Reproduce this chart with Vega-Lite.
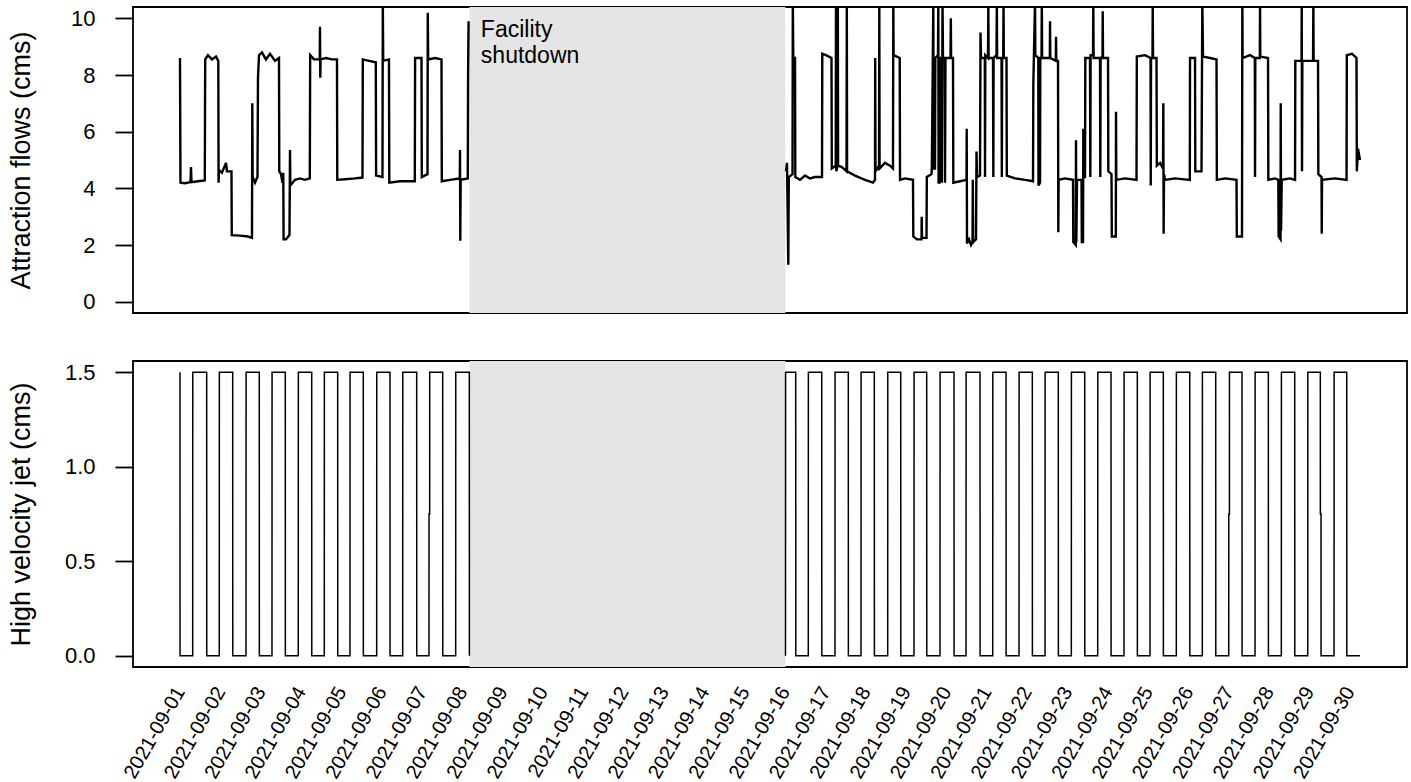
{
"$schema": "https://vega.github.io/schema/vega-lite/v6.json",
"padding": {"left": 6, "top": 6, "right": 0, "bottom": 0},
"spacing": 46,
"resolve": {"scale": {"x": "independent", "y": "independent"}},
"config": {
"font": "Liberation Sans",
"view": {"stroke": "black", "strokeWidth": 1.8},
"axis": {"domain": false, "grid": false, "labelColor": "black", "titleColor": "black", "tickColor": "black", "labelFontSize": 22, "titleFontSize": 27, "titleFontWeight": "normal", "tickSize": 18, "tickWidth": 1.8, "labelPadding": 20, "labelFont": "Liberation Sans", "titleFont": "Liberation Sans"}
},
"datasets": {
"shutdown": [{"start": 8.178, "end": 16.01}],
"note": [{"day": 8.46, "flow": 9.33, "label": "Facility\nshutdown"}],
"flow": [
{"day":1.000,"flow":8.6,"p":"a"},{"day":1.012,"flow":4.2,"p":"a"},{"day":1.124,"flow":4.18,"p":"a"},{"day":1.260,"flow":4.22,"p":"a"},{"day":1.273,"flow":4.75,"p":"a"},{"day":1.285,"flow":4.22,"p":"a"},{"day":1.446,"flow":4.25,"p":"a"},{"day":1.615,"flow":4.28,"p":"a"},{"day":1.625,"flow":8.55,"p":"a"},{"day":1.694,"flow":8.7,"p":"a"},{"day":1.793,"flow":8.55,"p":"a"},{"day":1.893,"flow":8.65,"p":"a"},{"day":1.950,"flow":8.5,"p":"a"},{"day":1.957,"flow":4.2,"p":"a"},{"day":1.967,"flow":4.65,"p":"a"},{"day":2.041,"flow":4.55,"p":"a"},{"day":2.141,"flow":4.9,"p":"a"},{"day":2.165,"flow":4.6,"p":"a"},{"day":2.277,"flow":4.6,"p":"a"},{"day":2.284,"flow":2.35,"p":"a"},{"day":2.488,"flow":2.33,"p":"a"},{"day":2.686,"flow":2.3,"p":"a"},{"day":2.785,"flow":2.25,"p":"a"},{"day":2.793,"flow":7.0,"p":"a"},{"day":2.803,"flow":4.4,"p":"a"},{"day":2.860,"flow":4.2,"p":"a"},{"day":2.922,"flow":4.4,"p":"a"},{"day":2.934,"flow":7.9,"p":"a"},{"day":2.959,"flow":8.7,"p":"a"},{"day":3.033,"flow":8.8,"p":"a"},{"day":3.132,"flow":8.55,"p":"a"},{"day":3.232,"flow":8.75,"p":"a"},{"day":3.356,"flow":8.5,"p":"a"},{"day":3.455,"flow":8.6,"p":"a"},{"day":3.462,"flow":4.6,"p":"a"},{"day":3.504,"flow":4.5,"p":"a"},{"day":3.542,"flow":4.2,"p":"a"},{"day":3.561,"flow":4.55,"p":"a"},{"day":3.569,"flow":2.2,"p":"a"},{"day":3.628,"flow":2.2,"p":"a"},{"day":3.715,"flow":2.35,"p":"a"},{"day":3.728,"flow":5.35,"p":"a"},{"day":3.737,"flow":4.1,"p":"a"},{"day":3.852,"flow":4.3,"p":"a"},{"day":3.976,"flow":4.35,"p":"a"},{"day":4.100,"flow":4.3,"p":"a"},{"day":4.219,"flow":4.35,"p":"a"},{"day":4.228,"flow":8.7,"p":"a"},{"day":4.323,"flow":8.55,"p":"a"},{"day":4.466,"flow":8.55,"p":"a"},{"day":4.471,"flow":9.7,"p":"a"},{"day":4.479,"flow":7.9,"p":"a"},{"day":4.486,"flow":8.55,"p":"a"},{"day":4.620,"flow":8.6,"p":"a"},{"day":4.769,"flow":8.55,"p":"a"},{"day":4.893,"flow":8.55,"p":"a"},{"day":4.900,"flow":4.3,"p":"a"},{"day":5.091,"flow":4.32,"p":"a"},{"day":5.339,"flow":4.35,"p":"a"},{"day":5.525,"flow":4.38,"p":"a"},{"day":5.533,"flow":8.55,"p":"a"},{"day":5.686,"flow":8.5,"p":"a"},{"day":5.855,"flow":8.45,"p":"a"},{"day":5.863,"flow":4.45,"p":"a"},{"day":6.021,"flow":4.4,"p":"a"},{"day":6.029,"flow":10.6,"p":"a"},{"day":6.039,"flow":8.5,"p":"a"},{"day":6.182,"flow":8.55,"p":"a"},{"day":6.190,"flow":4.2,"p":"a"},{"day":6.455,"flow":4.25,"p":"a"},{"day":6.822,"flow":4.25,"p":"a"},{"day":6.830,"flow":8.6,"p":"a"},{"day":6.988,"flow":8.6,"p":"a"},{"day":6.996,"flow":4.4,"p":"a"},{"day":7.137,"flow":4.5,"p":"a"},{"day":7.144,"flow":10.2,"p":"a"},{"day":7.154,"flow":8.55,"p":"a"},{"day":7.323,"flow":8.6,"p":"a"},{"day":7.484,"flow":8.55,"p":"a"},{"day":7.492,"flow":4.25,"p":"a"},{"day":7.695,"flow":4.3,"p":"a"},{"day":7.938,"flow":4.35,"p":"a"},{"day":7.943,"flow":5.35,"p":"a"},{"day":7.950,"flow":2.15,"p":"a"},{"day":7.960,"flow":4.3,"p":"a"},{"day":8.136,"flow":4.35,"p":"a"},{"day":8.144,"flow":8.1,"p":"a"},{"day":8.156,"flow":9.9,"p":"a"},
{"day":16.026,"flow":4.6,"p":"b"},{"day":16.051,"flow":4.9,"p":"b"},{"day":16.083,"flow":1.3,"p":"b"},{"day":16.096,"flow":4.4,"p":"b"},{"day":16.188,"flow":4.5,"p":"b"},{"day":16.195,"flow":10.6,"p":"b"},{"day":16.207,"flow":8.6,"p":"b"},{"day":16.250,"flow":8.6,"p":"b"},{"day":16.257,"flow":4.4,"p":"b"},{"day":16.374,"flow":4.3,"p":"b"},{"day":16.498,"flow":4.45,"p":"b"},{"day":16.621,"flow":4.35,"p":"b"},{"day":16.745,"flow":4.4,"p":"b"},{"day":16.919,"flow":4.4,"p":"b"},{"day":16.926,"flow":8.75,"p":"b"},{"day":17.018,"flow":8.7,"p":"b"},{"day":17.154,"flow":8.6,"p":"b"},{"day":17.162,"flow":4.7,"p":"b"},{"day":17.259,"flow":4.8,"p":"b"},{"day":17.266,"flow":10.6,"p":"b"},{"day":17.274,"flow":4.6,"p":"b"},{"day":17.303,"flow":4.8,"p":"b"},{"day":17.311,"flow":10.6,"p":"b"},{"day":17.318,"flow":4.8,"p":"b"},{"day":17.415,"flow":4.75,"p":"b"},{"day":17.527,"flow":4.6,"p":"b"},{"day":17.534,"flow":10.6,"p":"b"},{"day":17.541,"flow":4.6,"p":"b"},{"day":17.737,"flow":4.45,"p":"b"},{"day":17.985,"flow":4.3,"p":"b"},{"day":18.184,"flow":4.2,"p":"b"},{"day":18.233,"flow":4.3,"p":"b"},{"day":18.238,"flow":8.6,"p":"b"},{"day":18.246,"flow":4.6,"p":"b"},{"day":18.333,"flow":4.8,"p":"b"},{"day":18.340,"flow":10.6,"p":"b"},{"day":18.347,"flow":4.7,"p":"b"},{"day":18.481,"flow":4.9,"p":"b"},{"day":18.605,"flow":4.8,"p":"b"},{"day":18.679,"flow":4.7,"p":"b"},{"day":18.687,"flow":10.6,"p":"b"},{"day":18.694,"flow":8.7,"p":"b"},{"day":18.846,"flow":8.6,"p":"b"},{"day":18.853,"flow":4.3,"p":"b"},{"day":18.977,"flow":4.35,"p":"b"},{"day":19.175,"flow":4.3,"p":"b"},{"day":19.183,"flow":2.3,"p":"b"},{"day":19.274,"flow":2.2,"p":"b"},{"day":19.386,"flow":2.2,"p":"b"},{"day":19.391,"flow":3.0,"p":"b"},{"day":19.399,"flow":2.25,"p":"b"},{"day":19.510,"flow":2.25,"p":"b"},{"day":19.518,"flow":4.4,"p":"b"},{"day":19.634,"flow":4.5,"p":"b"},{"day":19.642,"flow":4.7,"p":"b"},{"day":19.679,"flow":10.6,"p":"b"},{"day":19.686,"flow":4.7,"p":"b"},{"day":19.721,"flow":4.7,"p":"b"},{"day":19.729,"flow":8.6,"p":"b"},{"day":19.795,"flow":8.7,"p":"b"},{"day":19.803,"flow":10.6,"p":"b"},{"day":19.810,"flow":4.2,"p":"b"},{"day":19.833,"flow":4.2,"p":"b"},{"day":19.840,"flow":8.6,"p":"b"},{"day":19.882,"flow":8.6,"p":"b"},{"day":19.890,"flow":4.2,"p":"b"},{"day":19.907,"flow":10.6,"p":"b"},{"day":19.919,"flow":8.6,"p":"b"},{"day":19.962,"flow":8.6,"p":"b"},{"day":19.969,"flow":4.2,"p":"b"},{"day":19.981,"flow":8.6,"p":"b"},{"day":20.105,"flow":8.6,"p":"b"},{"day":20.113,"flow":10.0,"p":"b"},{"day":20.120,"flow":8.6,"p":"b"},{"day":20.167,"flow":8.6,"p":"b"},{"day":20.175,"flow":4.2,"p":"b"},{"day":20.341,"flow":4.25,"p":"b"},{"day":20.502,"flow":4.3,"p":"b"},{"day":20.507,"flow":6.1,"p":"b"},{"day":20.514,"flow":2.05,"p":"b"},{"day":20.564,"flow":2.2,"p":"b"},{"day":20.614,"flow":2.0,"p":"b"},{"day":20.651,"flow":2.1,"p":"b"},{"day":20.658,"flow":4.3,"p":"b"},{"day":20.668,"flow":2.1,"p":"b"},{"day":20.738,"flow":2.2,"p":"b"},{"day":20.750,"flow":5.3,"p":"b"},{"day":20.763,"flow":4.4,"p":"b"},{"day":20.837,"flow":4.45,"p":"b"},{"day":20.849,"flow":9.5,"p":"b"},{"day":20.862,"flow":8.6,"p":"b"},{"day":20.956,"flow":8.6,"p":"b"},{"day":20.961,"flow":4.4,"p":"b"},{"day":20.968,"flow":8.7,"p":"b"},{"day":21.035,"flow":8.6,"p":"b"},{"day":21.043,"flow":10.6,"p":"b"},{"day":21.050,"flow":8.6,"p":"b"},{"day":21.159,"flow":8.6,"p":"b"},{"day":21.167,"flow":4.4,"p":"b"},{"day":21.174,"flow":8.6,"p":"b"},{"day":21.246,"flow":8.7,"p":"b"},{"day":21.254,"flow":10.6,"p":"b"},{"day":21.261,"flow":8.6,"p":"b"},{"day":21.370,"flow":8.6,"p":"b"},{"day":21.378,"flow":4.4,"p":"b"},{"day":21.385,"flow":8.6,"p":"b"},{"day":21.412,"flow":8.6,"p":"b"},{"day":21.420,"flow":10.6,"p":"b"},{"day":21.427,"flow":8.6,"p":"b"},{"day":21.494,"flow":8.6,"p":"b"},{"day":21.501,"flow":4.45,"p":"b"},{"day":21.705,"flow":4.35,"p":"b"},{"day":21.953,"flow":4.3,"p":"b"},{"day":22.151,"flow":4.25,"p":"b"},{"day":22.159,"flow":7.7,"p":"b"},{"day":22.201,"flow":10.6,"p":"b"},{"day":22.208,"flow":8.7,"p":"b"},{"day":22.282,"flow":8.6,"p":"b"},{"day":22.287,"flow":4.1,"p":"b"},{"day":22.325,"flow":4.2,"p":"b"},{"day":22.332,"flow":8.6,"p":"b"},{"day":22.362,"flow":8.6,"p":"b"},{"day":22.369,"flow":10.6,"p":"b"},{"day":22.377,"flow":8.6,"p":"b"},{"day":22.568,"flow":8.6,"p":"b"},{"day":22.573,"flow":9.9,"p":"b"},{"day":22.580,"flow":8.6,"p":"b"},{"day":22.717,"flow":8.5,"p":"b"},{"day":22.721,"flow":9.35,"p":"b"},{"day":22.729,"flow":8.5,"p":"b"},{"day":22.771,"flow":8.5,"p":"b"},{"day":22.778,"flow":2.45,"p":"b"},{"day":22.786,"flow":4.3,"p":"b"},{"day":22.944,"flow":4.35,"p":"b"},{"day":23.143,"flow":4.3,"p":"b"},{"day":23.150,"flow":2.1,"p":"b"},{"day":23.210,"flow":2.0,"p":"b"},{"day":23.217,"flow":5.7,"p":"b"},{"day":23.225,"flow":2.1,"p":"b"},{"day":23.242,"flow":4.3,"p":"b"},{"day":23.354,"flow":4.3,"p":"b"},{"day":23.361,"flow":2.1,"p":"b"},{"day":23.391,"flow":2.1,"p":"b"},{"day":23.398,"flow":6.1,"p":"b"},{"day":23.406,"flow":4.4,"p":"b"},{"day":23.440,"flow":4.4,"p":"b"},{"day":23.448,"flow":8.6,"p":"b"},{"day":23.564,"flow":8.6,"p":"b"},{"day":23.572,"flow":4.4,"p":"b"},{"day":23.579,"flow":8.7,"p":"b"},{"day":23.639,"flow":8.7,"p":"b"},{"day":23.646,"flow":10.6,"p":"b"},{"day":23.654,"flow":8.6,"p":"b"},{"day":23.812,"flow":8.6,"p":"b"},{"day":23.820,"flow":4.4,"p":"b"},{"day":23.827,"flow":8.6,"p":"b"},{"day":23.874,"flow":8.65,"p":"b"},{"day":23.879,"flow":10.25,"p":"b"},{"day":23.887,"flow":8.6,"p":"b"},{"day":24.011,"flow":8.6,"p":"b"},{"day":24.018,"flow":4.6,"p":"b"},{"day":24.097,"flow":4.5,"p":"b"},{"day":24.105,"flow":2.3,"p":"b"},{"day":24.204,"flow":2.3,"p":"b"},{"day":24.209,"flow":6.7,"p":"b"},{"day":24.216,"flow":4.3,"p":"b"},{"day":24.432,"flow":4.35,"p":"b"},{"day":24.717,"flow":4.3,"p":"b"},{"day":24.725,"flow":8.65,"p":"b"},{"day":24.928,"flow":8.7,"p":"b"},{"day":25.065,"flow":8.6,"p":"b"},{"day":25.070,"flow":4.1,"p":"b"},{"day":25.077,"flow":8.6,"p":"b"},{"day":25.114,"flow":8.6,"p":"b"},{"day":25.119,"flow":10.6,"p":"b"},{"day":25.127,"flow":8.6,"p":"b"},{"day":25.213,"flow":8.6,"p":"b"},{"day":25.221,"flow":4.8,"p":"b"},{"day":25.300,"flow":4.9,"p":"b"},{"day":25.374,"flow":4.7,"p":"b"},{"day":25.382,"flow":7.0,"p":"b"},{"day":25.390,"flow":2.4,"p":"b"},{"day":25.399,"flow":4.5,"p":"b"},{"day":25.424,"flow":4.3,"p":"b"},{"day":25.672,"flow":4.35,"p":"b"},{"day":26.039,"flow":4.3,"p":"b"},{"day":26.044,"flow":8.6,"p":"b"},{"day":26.168,"flow":8.6,"p":"b"},{"day":26.175,"flow":4.6,"p":"b"},{"day":26.329,"flow":4.6,"p":"b"},{"day":26.349,"flow":10.6,"p":"b"},{"day":26.366,"flow":8.65,"p":"b"},{"day":26.540,"flow":8.6,"p":"b"},{"day":26.701,"flow":8.55,"p":"b"},{"day":26.709,"flow":4.3,"p":"b"},{"day":26.912,"flow":4.35,"p":"b"},{"day":27.197,"flow":4.3,"p":"b"},{"day":27.204,"flow":2.3,"p":"b"},{"day":27.333,"flow":2.3,"p":"b"},{"day":27.341,"flow":10.6,"p":"b"},{"day":27.348,"flow":8.6,"p":"b"},{"day":27.532,"flow":8.7,"p":"b"},{"day":27.651,"flow":8.6,"p":"b"},{"day":27.656,"flow":4.4,"p":"b"},{"day":27.663,"flow":8.6,"p":"b"},{"day":27.775,"flow":8.6,"p":"b"},{"day":27.780,"flow":10.6,"p":"b"},{"day":27.787,"flow":8.65,"p":"b"},{"day":27.978,"flow":8.6,"p":"b"},{"day":27.986,"flow":4.3,"p":"b"},{"day":28.152,"flow":4.35,"p":"b"},{"day":28.233,"flow":4.3,"p":"b"},{"day":28.241,"flow":2.3,"p":"b"},{"day":28.288,"flow":2.2,"p":"b"},{"day":28.293,"flow":7.0,"p":"b"},{"day":28.301,"flow":2.5,"p":"b"},{"day":28.318,"flow":4.3,"p":"b"},{"day":28.524,"flow":4.35,"p":"b"},{"day":28.648,"flow":4.3,"p":"b"},{"day":28.655,"flow":8.5,"p":"b"},{"day":28.809,"flow":8.5,"p":"b"},{"day":28.814,"flow":10.6,"p":"b"},{"day":28.821,"flow":4.6,"p":"b"},{"day":28.829,"flow":8.5,"p":"b"},{"day":29.094,"flow":8.5,"p":"b"},{"day":29.102,"flow":10.6,"p":"b"},{"day":29.109,"flow":8.5,"p":"b"},{"day":29.218,"flow":8.5,"p":"b"},{"day":29.226,"flow":4.5,"p":"b"},{"day":29.305,"flow":4.4,"p":"b"},{"day":29.310,"flow":2.4,"p":"b"},{"day":29.317,"flow":4.3,"p":"b"},{"day":29.640,"flow":4.35,"p":"b"},{"day":29.925,"flow":4.3,"p":"b"},{"day":29.932,"flow":8.7,"p":"b"},{"day":30.061,"flow":8.75,"p":"b"},{"day":30.172,"flow":8.6,"p":"b"},{"day":30.180,"flow":4.6,"p":"b"},{"day":30.209,"flow":5.4,"p":"b"},{"day":30.259,"flow":5.0,"p":"b"}
],
"jet": [
{"day":1.000,"jet":1.5,"p":"a"},{"day":1.002,"jet":0,"p":"a"},
{"day":1.315,"jet":0,"p":"a"},{"day":1.317,"jet":1.5,"p":"a"},{"day":1.662,"jet":1.5,"p":"a"},{"day":1.664,"jet":0,"p":"a"},
{"day":1.974,"jet":0,"p":"a"},{"day":1.976,"jet":1.5,"p":"a"},{"day":2.307,"jet":1.5,"p":"a"},{"day":2.309,"jet":0,"p":"a"},
{"day":2.637,"jet":0,"p":"a"},{"day":2.639,"jet":1.5,"p":"a"},{"day":2.966,"jet":1.5,"p":"a"},{"day":2.968,"jet":0,"p":"a"},
{"day":3.281,"jet":0,"p":"a"},{"day":3.283,"jet":1.5,"p":"a"},{"day":3.611,"jet":1.5,"p":"a"},{"day":3.613,"jet":0,"p":"a"},
{"day":3.933,"jet":0,"p":"a"},{"day":3.935,"jet":1.5,"p":"a"},{"day":4.266,"jet":1.5,"p":"a"},{"day":4.268,"jet":0,"p":"a"},
{"day":4.578,"jet":0,"p":"a"},{"day":4.580,"jet":1.5,"p":"a"},{"day":4.910,"jet":1.5,"p":"a"},{"day":4.912,"jet":0,"p":"a"},
{"day":5.215,"jet":0,"p":"a"},{"day":5.217,"jet":1.5,"p":"a"},{"day":5.545,"jet":1.5,"p":"a"},{"day":5.547,"jet":0,"p":"a"},
{"day":5.877,"jet":0,"p":"a"},{"day":5.879,"jet":1.5,"p":"a"},{"day":6.207,"jet":1.5,"p":"a"},{"day":6.209,"jet":0,"p":"a"},
{"day":6.522,"jet":0,"p":"a"},{"day":6.524,"jet":1.5,"p":"a"},{"day":6.869,"jet":1.5,"p":"a"},{"day":6.871,"jet":0,"p":"a"},
{"day":7.174,"jet":0,"p":"a"},{"day":7.175,"jet":0.75,"p":"a"},{"day":7.191,"jet":0.75,"p":"a"},{"day":7.192,"jet":1.5,"p":"a"},{"day":7.514,"jet":1.5,"p":"a"},{"day":7.516,"jet":0,"p":"a"},
{"day":7.836,"jet":0,"p":"a"},{"day":7.838,"jet":1.5,"p":"a"},{"day":8.174,"jet":1.5,"p":"a"},{"day":8.176,"jet":0,"p":"a"},
{"day":16.014,"jet":0,"p":"b"},{"day":16.016,"jet":1.5,"p":"b"},{"day":16.267,"jet":1.5,"p":"b"},{"day":16.269,"jet":0,"p":"b"},
{"day":16.579,"jet":0,"p":"b"},{"day":16.581,"jet":1.5,"p":"b"},{"day":16.912,"jet":1.5,"p":"b"},{"day":16.914,"jet":0,"p":"b"},
{"day":17.241,"jet":0,"p":"b"},{"day":17.243,"jet":1.5,"p":"b"},{"day":17.571,"jet":1.5,"p":"b"},{"day":17.573,"jet":0,"p":"b"},
{"day":17.886,"jet":0,"p":"b"},{"day":17.888,"jet":1.5,"p":"b"},{"day":18.216,"jet":1.5,"p":"b"},{"day":18.218,"jet":0,"p":"b"},
{"day":18.548,"jet":0,"p":"b"},{"day":18.550,"jet":1.5,"p":"b"},{"day":18.871,"jet":1.5,"p":"b"},{"day":18.873,"jet":0,"p":"b"},
{"day":19.200,"jet":0,"p":"b"},{"day":19.202,"jet":1.5,"p":"b"},{"day":19.515,"jet":1.5,"p":"b"},{"day":19.517,"jet":0,"p":"b"},
{"day":19.845,"jet":0,"p":"b"},{"day":19.847,"jet":1.5,"p":"b"},{"day":20.192,"jet":1.5,"p":"b"},{"day":20.194,"jet":0,"p":"b"},
{"day":20.490,"jet":0,"p":"b"},{"day":20.492,"jet":1.5,"p":"b"},{"day":20.837,"jet":1.5,"p":"b"},{"day":20.839,"jet":0,"p":"b"},
{"day":21.152,"jet":0,"p":"b"},{"day":21.154,"jet":1.5,"p":"b"},{"day":21.482,"jet":1.5,"p":"b"},{"day":21.484,"jet":0,"p":"b"},
{"day":21.804,"jet":0,"p":"b"},{"day":21.806,"jet":1.5,"p":"b"},{"day":22.134,"jet":1.5,"p":"b"},{"day":22.136,"jet":0,"p":"b"},
{"day":22.449,"jet":0,"p":"b"},{"day":22.451,"jet":1.5,"p":"b"},{"day":22.778,"jet":1.5,"p":"b"},{"day":22.780,"jet":0,"p":"b"},
{"day":23.101,"jet":0,"p":"b"},{"day":23.103,"jet":1.5,"p":"b"},{"day":23.433,"jet":1.5,"p":"b"},{"day":23.435,"jet":0,"p":"b"},
{"day":23.755,"jet":0,"p":"b"},{"day":23.757,"jet":1.5,"p":"b"},{"day":24.085,"jet":1.5,"p":"b"},{"day":24.087,"jet":0,"p":"b"},
{"day":24.407,"jet":0,"p":"b"},{"day":24.409,"jet":1.5,"p":"b"},{"day":24.737,"jet":1.5,"p":"b"},{"day":24.739,"jet":0,"p":"b"},
{"day":25.052,"jet":0,"p":"b"},{"day":25.054,"jet":1.5,"p":"b"},{"day":25.382,"jet":1.5,"p":"b"},{"day":25.384,"jet":0,"p":"b"},
{"day":25.704,"jet":0,"p":"b"},{"day":25.706,"jet":1.5,"p":"b"},{"day":26.037,"jet":1.5,"p":"b"},{"day":26.039,"jet":0,"p":"b"},
{"day":26.349,"jet":0,"p":"b"},{"day":26.351,"jet":1.5,"p":"b"},{"day":26.681,"jet":1.5,"p":"b"},{"day":26.683,"jet":0,"p":"b"},
{"day":27.004,"jet":0,"p":"b"},{"day":27.005,"jet":0.75,"p":"b"},{"day":27.021,"jet":0.75,"p":"b"},{"day":27.022,"jet":1.5,"p":"b"},{"day":27.333,"jet":1.5,"p":"b"},{"day":27.335,"jet":0,"p":"b"},
{"day":27.656,"jet":0,"p":"b"},{"day":27.658,"jet":1.5,"p":"b"},{"day":27.986,"jet":1.5,"p":"b"},{"day":27.988,"jet":0,"p":"b"},
{"day":28.308,"jet":0,"p":"b"},{"day":28.310,"jet":1.5,"p":"b"},{"day":28.640,"jet":1.5,"p":"b"},{"day":28.642,"jet":0,"p":"b"},
{"day":28.963,"jet":0,"p":"b"},{"day":28.965,"jet":1.5,"p":"b"},{"day":29.275,"jet":1.5,"p":"b"},{"day":29.276,"jet":0.75,"p":"b"},{"day":29.292,"jet":0.75,"p":"b"},{"day":29.293,"jet":0,"p":"b"},
{"day":29.615,"jet":0,"p":"b"},{"day":29.617,"jet":1.5,"p":"b"},{"day":29.930,"jet":1.5,"p":"b"},{"day":29.932,"jet":0,"p":"b"},
{"day":30.259,"jet":0,"p":"b"}
]
},
"vconcat": [
{
"width": 1274, "height": 306,
"layer": [
{"data": {"name": "shutdown"}, "mark": {"type": "rect", "color": "#e5e5e5"},
 "encoding": {"x": {"field": "start", "type": "quantitative", "title": null, "scale": {"domain": [-0.165, 31.424], "nice": false, "zero": false}, "axis": null}, "x2": {"field": "end"}}},
{"data": {"name": "note"}, "mark": {"type": "text", "align": "left", "baseline": "alphabetic", "fontSize": 23, "lineHeight": 25.6, "lineBreak": "\n", "font": "Liberation Sans", "color": "black"},
 "encoding": {"x": {"field": "day", "type": "quantitative", "title": null, "axis": null}, "y": {"field": "flow", "type": "quantitative", "title": "Attraction flows (cms)"}, "text": {"field": "label"}}},
{"data": {"name": "flow"}, "mark": {"type": "line", "color": "black", "strokeWidth": 2.4, "clip": true},
 "encoding": {"x": {"field": "day", "type": "quantitative", "title": null, "axis": null},
  "y": {"field": "flow", "type": "quantitative", "title": "Attraction flows (cms)", "scale": {"domain": [-0.4, 10.4], "nice": false, "zero": false}, "axis": {"values": [0, 2, 4, 6, 8, 10], "titlePadding": 35}},
  "detail": {"field": "p"}}}
]
},
{
"width": 1274, "height": 306,
"layer": [
{"data": {"name": "shutdown"}, "mark": {"type": "rect", "color": "#e5e5e5"},
 "encoding": {"x": {"field": "start", "type": "quantitative", "title": null, "scale": {"domain": [-0.165, 31.424], "nice": false, "zero": false},
   "axis": {"values": [1,2,3,4,5,6,7,8,9,10,11,12,13,14,15,16,17,18,19,20,21,22,23,24,25,26,27,28,29,30], "labelExpr": "'2021-09-' + (datum.value < 10 ? '0' : '') + datum.value", "ticks": false, "tickSize": 0, "labelFontSize": 20, "labelAngle": -60, "labelAlign": "right", "labelBaseline": "middle", "labelPadding": 21, "labelOffset": 0, "labelFlush": false, "labelOverlap": false}},
  "x2": {"field": "end"}}},
{"data": {"name": "jet"}, "mark": {"type": "line", "color": "black", "strokeWidth": 1.5, "clip": true},
 "encoding": {"x": {"field": "day", "type": "quantitative", "title": null,
   "axis": {"values": [1,2,3,4,5,6,7,8,9,10,11,12,13,14,15,16,17,18,19,20,21,22,23,24,25,26,27,28,29,30], "labelExpr": "'2021-09-' + (datum.value < 10 ? '0' : '') + datum.value", "ticks": false, "tickSize": 0, "labelFontSize": 20, "labelAngle": -60, "labelAlign": "right", "labelBaseline": "middle", "labelPadding": 21, "labelOffset": 0, "labelFlush": false, "labelOverlap": false}},
  "y": {"field": "jet", "type": "quantitative", "title": "High velocity jet (cms)", "scale": {"domain": [-0.06, 1.56], "nice": false, "zero": false}, "axis": {"values": [0, 0.5, 1, 1.5], "format": ".1f", "titlePadding": 29}},
  "detail": {"field": "p"}}}
]
}
]
}
